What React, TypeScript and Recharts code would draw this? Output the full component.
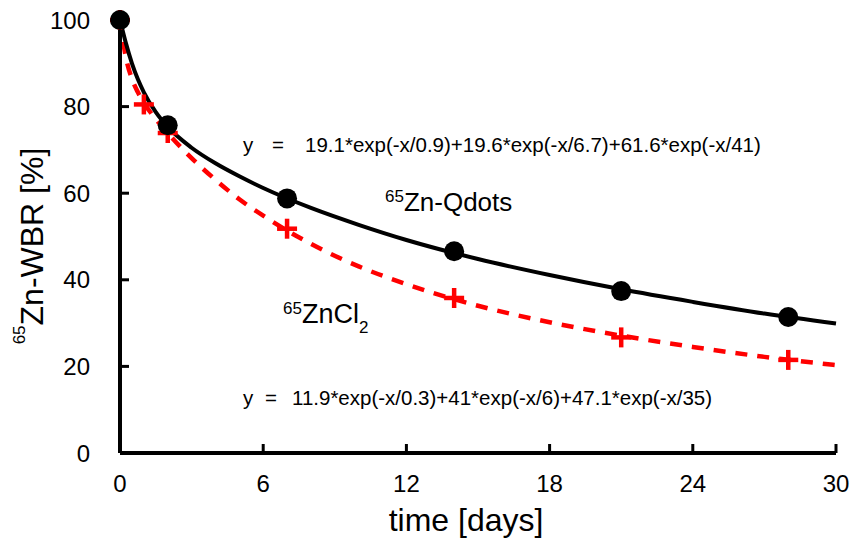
import { ComposedChart, Line, Scatter, XAxis, YAxis } from 'recharts'

// fitted curves
const curveDays = [0, 0.25, 0.5, 0.75, 1, 1.5, 2, 3, 4, 5, 6, 8, 10, 12, 15, 18, 21, 24, 27, 30]
const qdotsFit = [100, 94.6, 90.0, 86.3, 83.3, 78.7, 75.3, 70.5, 66.9, 63.9, 61.2, 56.6, 52.7, 49.2, 44.8, 41.1, 37.8, 34.9, 32.2, 29.9]
const zncl2Fit = [100, 91.3, 86.4, 83.3, 80.9, 77.1, 73.9, 68.1, 63.1, 58.6, 54.8, 48.3, 43.1, 39.0, 34.0, 30.2, 27.1, 24.5, 22.2, 20.3]

// measured points
const qdotsDays = [0, 2, 7, 14, 21, 28]
const qdotsWbr = [100, 75.7, 58.8, 46.6, 37.4, 31.4]
const zncl2Days = [0, 1, 2, 7, 14, 21, 28]
const zncl2Wbr = [100, 80.5, 73.9, 51.8, 35.8, 26.7, 21.5]

const xTicks = [0, 6, 12, 18, 24, 30]
const yTicks = [0, 20, 40, 60, 80, 100]

const qdotsEq = '19.1*exp(-x/0.9)+19.6*exp(-x/6.7)+61.6*exp(-x/41)'
const zncl2Eq = '11.9*exp(-x/0.3)+41*exp(-x/6)+47.1*exp(-x/35)'

const FONT = '"Liberation Sans", Arial, sans-serif'
const RED = '#ff0000'
const TICK_LEN = 9
const X_MARGIN = 22
const Y_MARGIN = 30

const toPts = (xs: number[], ys: number[]) => xs.map((x, i) => ({ x, y: ys[i] }))

function Plus(props: any) {
  const { cx, cy } = props
  if (cx == null || cy == null) return null
  const r = 10
  return (
    <g stroke={RED} strokeWidth={4.5}>
      <line x1={cx - r} x2={cx + r} y1={cy} y2={cy} />
      <line x1={cx} x2={cx} y1={cy - r} y2={cy + r} />
    </g>
  )
}

function Dot(props: any) {
  const { cx, cy } = props
  if (cx == null || cy == null) return null
  return <circle cx={cx} cy={cy} r={10} fill="#000" />
}

// ticks point inward, labels sit outside
function XTick({ x, y, payload }: any) {
  const axisY = y - X_MARGIN
  return (
    <g>
      <line x1={x} x2={x} y1={axisY} y2={axisY - TICK_LEN} stroke="#000" strokeWidth={3} />
      <text x={x} y={y} dy="0.71em" textAnchor="middle" fontSize={24} fontFamily={FONT} fill="#000">
        {payload.value}
      </text>
    </g>
  )
}

function YTick({ x, y, payload }: any) {
  const axisX = x + Y_MARGIN
  return (
    <g>
      <line x1={axisX} x2={axisX + TICK_LEN} y1={y} y2={y} stroke="#000" strokeWidth={3} />
      <text x={x} y={y} dy="0.355em" textAnchor="end" fontSize={24} fontFamily={FONT} fill="#000">
        {payload.value}
      </text>
    </g>
  )
}

export default function App() {
  return (
    <div style={{ position: 'absolute', left: 0, top: 0, background: '#fff' }}>
      <ComposedChart width={851} height={541} margin={{ top: 20, right: 15, left: 60, bottom: 58 }}>
        <XAxis
          type="number"
          dataKey="x"
          domain={[0, 30]}
          ticks={xTicks}
          height={30}
          axisLine={{ stroke: '#000', strokeWidth: 4 }}
          tickLine={false}
          tickSize={0}
          tickMargin={X_MARGIN}
          tick={<XTick />}
        />
        <YAxis
          type="number"
          dataKey="y"
          domain={[0, 100]}
          ticks={yTicks}
          width={60}
          axisLine={{ stroke: '#000', strokeWidth: 4 }}
          tickLine={false}
          tickSize={0}
          tickMargin={Y_MARGIN}
          tick={<YTick />}
        />

        <Line
          data={toPts(curveDays, zncl2Fit)}
          dataKey="y"
          type="monotone"
          stroke={RED}
          strokeWidth={4.5}
          strokeDasharray="12 10"
          dot={false}
          activeDot={false}
          isAnimationActive={false}
        />
        <Scatter data={toPts(zncl2Days, zncl2Wbr)} dataKey="y" shape={Plus} isAnimationActive={false} />
        <Line
          data={toPts(curveDays, qdotsFit)}
          dataKey="y"
          type="monotone"
          stroke="#000"
          strokeWidth={4}
          dot={false}
          activeDot={false}
          isAnimationActive={false}
        />
        <Scatter data={toPts(qdotsDays, qdotsWbr)} dataKey="y" shape={Dot} isAnimationActive={false} />

        {/* axis titles */}
        <text x={466} y={531} textAnchor="middle" fontSize={32} fontFamily={FONT} fill="#000">
          time [days]
        </text>
        <text transform="translate(43,246) rotate(-90)" textAnchor="middle" fontFamily={FONT} fill="#000">
          <tspan fontSize={17} dy={-18}>65</tspan>
          <tspan fontSize={32} dy={18}>Zn-WBR [%]</tspan>
        </text>

        {/* fit equations and series labels */}
        <text x={243} y={152} fontSize={20.5} fontFamily={FONT} fill="#000">
          <tspan>y</tspan>
          <tspan x={272}>=</tspan>
          <tspan x={305}>{qdotsEq}</tspan>
        </text>
        <text x={243} y={405} fontSize={20.5} fontFamily={FONT} fill="#000">
          <tspan>y</tspan>
          <tspan x={265}>=</tspan>
          <tspan x={292}>{zncl2Eq}</tspan>
        </text>
        <text x={385} y={211} fontFamily={FONT} fill="#000">
          <tspan fontSize={17} dy={-9}>65</tspan>
          <tspan fontSize={26} dy={9}>Zn-Qdots</tspan>
        </text>
        <text x={283} y={323} fontFamily={FONT} fill="#000">
          <tspan fontSize={17} dy={-9}>65</tspan>
          <tspan fontSize={27} dy={9}>ZnCl</tspan>
          <tspan fontSize={17} dy={10}>2</tspan>
        </text>
      </ComposedChart>
    </div>
  )
}
